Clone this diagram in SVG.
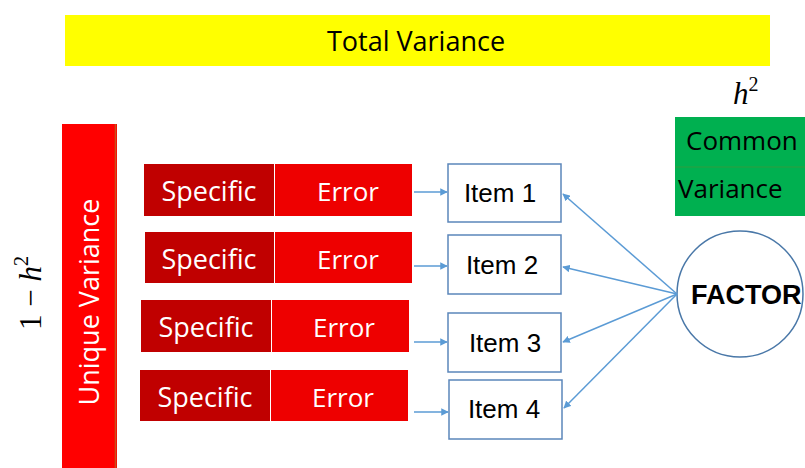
<svg xmlns="http://www.w3.org/2000/svg" width="805" height="468" viewBox="0 0 805 468">
<defs>
<style>
.lbl{font-family:"Open Sans","Liberation Sans",sans-serif;}
.w{fill:#ffffff;}
.k{fill:#000000;}
.spec{fill:#C00000;}
.err{fill:#EE0000;}
.item{fill:#ffffff;stroke:#5B86BA;stroke-width:1.5;}
.itxt{font-family:"Liberation Sans",Arial,sans-serif;font-size:26px;fill:#000;text-anchor:middle;}
.math{font-family:"Liberation Serif","DejaVu Serif",serif;font-size:31px;fill:#000;}
.arr{stroke:#5B9BD5;stroke-width:1.5;fill:none;marker-end:url(#ah);}
</style>
<marker id="ah" viewBox="0 0 10 10" refX="9" refY="5" markerWidth="5" markerHeight="5" orient="auto" markerUnits="strokeWidth">
<path d="M0,0 L10,5 L0,10 z" fill="#5B9BD5"/>
</marker>
</defs>
<rect width="805" height="468" fill="#ffffff"/>

<g id="total">
<rect x="65" y="15" width="705" height="51" fill="#FFFF00"/>
<text class="lbl k" x="416" y="51" font-size="27" text-anchor="middle">Total Variance</text>
</g>

<g id="unique">
<rect x="62" y="124" width="55" height="344" fill="#FF0000"/>
<line x1="115.5" y1="124" x2="115.5" y2="468" stroke="#C8501A" stroke-width="1.5"/>
<text class="lbl w" transform="translate(99,302) rotate(-90)" font-size="27" text-anchor="middle">Unique Variance</text>
</g>

<g id="one-minus-h2">
<text class="math" transform="translate(41,293) rotate(-90)" text-anchor="middle">1 − <tspan font-style="italic">h</tspan><tspan font-size="20" dy="-13">2</tspan></text>
</g>

<g id="h2">
<text class="math" x="733" y="104"><tspan font-style="italic">h</tspan><tspan font-size="20" dy="-13">2</tspan></text>
</g>

<g id="common">
<rect x="675" y="117" width="130" height="99" fill="#00B050"/>
<line x1="675" y1="167" x2="805" y2="167" stroke="#3A9A3A" stroke-width="0.8"/>
<text class="lbl k" x="686" y="150" font-size="26">Common</text>
<text class="lbl k" x="678" y="198" font-size="26">Variance</text>
</g>

<g id="row1">
<rect class="spec" x="144" y="164" width="130" height="52"/>
<rect class="err" x="275" y="164" width="137" height="52"/>
<text class="lbl w" x="209" y="201" font-size="27" text-anchor="middle">Specific</text>
<text class="lbl w" x="348" y="201" font-size="26" text-anchor="middle">Error</text>
</g>
<g id="row2">
<rect class="spec" x="145" y="232" width="129" height="51"/>
<rect class="err" x="275" y="232" width="137" height="51"/>
<text class="lbl w" x="209" y="269" font-size="27" text-anchor="middle">Specific</text>
<text class="lbl w" x="348" y="269" font-size="26" text-anchor="middle">Error</text>
</g>
<g id="row3">
<rect class="spec" x="141" y="300" width="130" height="52"/>
<rect class="err" x="272" y="300" width="137" height="52"/>
<text class="lbl w" x="206" y="337" font-size="27" text-anchor="middle">Specific</text>
<text class="lbl w" x="344" y="337" font-size="26" text-anchor="middle">Error</text>
</g>
<g id="row4">
<rect class="spec" x="140" y="370" width="130" height="51"/>
<rect class="err" x="271" y="370" width="137" height="51"/>
<text class="lbl w" x="205" y="407" font-size="27" text-anchor="middle">Specific</text>
<text class="lbl w" x="343" y="407" font-size="26" text-anchor="middle">Error</text>
</g>

<g id="item1">
<rect class="item" x="448" y="164" width="113" height="58"/>
<text class="itxt" x="500" y="202">Item 1</text>
</g>
<g id="item2">
<rect class="item" x="448" y="235" width="113" height="59"/>
<text class="itxt" x="502" y="274">Item 2</text>
</g>
<g id="item3">
<rect class="item" x="448" y="313" width="113" height="59"/>
<text class="itxt" x="505" y="352">Item 3</text>
</g>
<g id="item4">
<rect class="item" x="449" y="380" width="113" height="59"/>
<text class="itxt" x="504" y="418">Item 4</text>
</g>

<g id="factor">
<circle cx="740" cy="294" r="63" fill="#ffffff" stroke="#4A78A8" stroke-width="1.5"/>
<text x="691" y="304" font-family="'Liberation Sans',Arial,sans-serif" font-weight="bold" font-size="27" fill="#000">FACTOR</text>
</g>

<g id="connectors">
<line class="arr" x1="414" y1="192" x2="447" y2="192"/>
<line class="arr" x1="414" y1="266" x2="447" y2="266"/>
<line class="arr" x1="414" y1="342" x2="447" y2="342"/>
<line class="arr" x1="414" y1="412" x2="448" y2="412"/>
<line class="arr" x1="677" y1="294" x2="563" y2="194"/>
<line class="arr" x1="677" y1="294" x2="563" y2="267"/>
<line class="arr" x1="677" y1="294" x2="563" y2="342"/>
<line class="arr" x1="677" y1="294" x2="564" y2="408"/>
</g>
</svg>
